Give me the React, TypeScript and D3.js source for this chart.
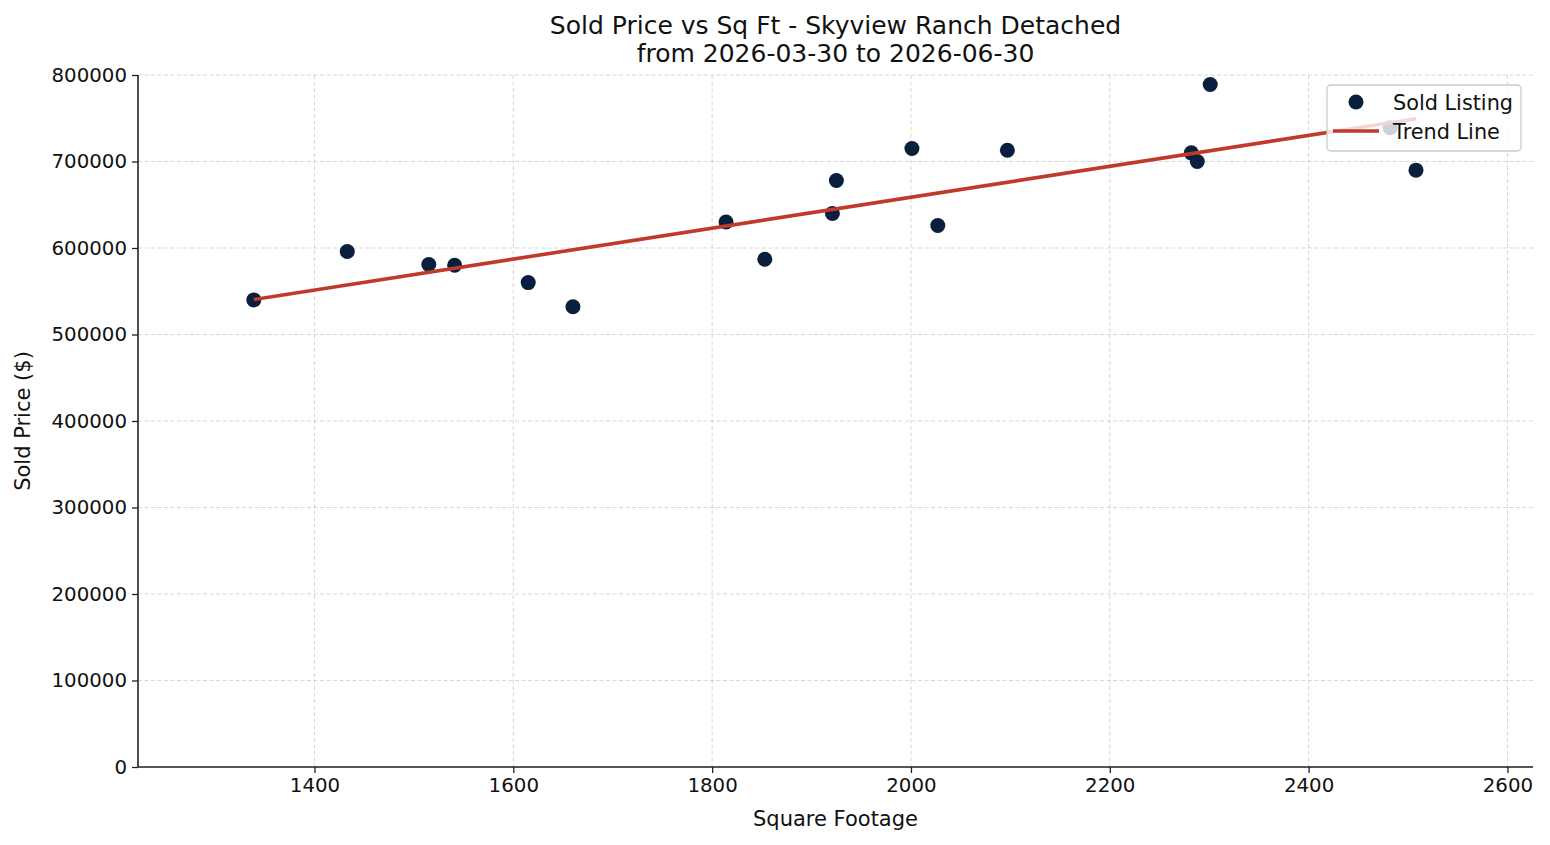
import React, { useRef, useEffect } from "react";
import * as d3 from "d3";

// sold listings
const sqft = [1339, 1433, 1515, 1541, 1615, 1660, 1814, 1853, 1921, 1925, 2001, 2027, 2097, 2282, 2288, 2301, 2482, 2508];
const soldPrice = [540000, 596000, 581000, 580000, 560000, 532000, 630000, 587000, 640000, 678000, 715000, 626000, 713000, 710000, 700000, 789000, 739000, 690000];

const xTicks = [1400, 1600, 1800, 2000, 2200, 2400, 2600];
const yTicks = [0, 100000, 200000, 300000, 400000, 500000, 600000, 700000, 800000];

const titleLines = ["Sold Price vs Sq Ft - Skyview Ranch Detached", "from 2026-03-30 to 2026-06-30"];

const W = 1550;
const H = 845;
const margin = { top: 75, right: 17, bottom: 78, left: 138 };
const font = "'DejaVu Sans', sans-serif";
const navy = "#0a1f3d";
const red = "#c0392b";

const App = () => {
  const svgRef = useRef(null);

  useEffect(() => {
    document.body.style.margin = "0";
    const svg = d3.select(svgRef.current);
    svg.selectAll("*").remove();

    const iw = W - margin.left - margin.right;
    const ih = H - margin.top - margin.bottom;

    const x = d3.scaleLinear().domain([1222.5, 2625.7]).range([0, iw]);
    const y = d3.scaleLinear().domain([0, 800000]).range([ih, 0]);

    const g = svg.append("g").attr("transform", `translate(${margin.left},${margin.top})`);

    // grid
    g.append("g")
      .selectAll("line")
      .data(xTicks)
      .enter()
      .append("line")
      .attr("x1", (d) => x(d))
      .attr("x2", (d) => x(d))
      .attr("y1", 0)
      .attr("y2", ih)
      .attr("stroke", "#b0b0b0")
      .attr("stroke-opacity", 0.5)
      .attr("stroke-dasharray", "4,2.5")
      .attr("stroke-width", 1);
    g.append("g")
      .selectAll("line")
      .data(yTicks)
      .enter()
      .append("line")
      .attr("x1", 0)
      .attr("x2", iw)
      .attr("y1", (d) => y(d))
      .attr("y2", (d) => y(d))
      .attr("stroke", "#b0b0b0")
      .attr("stroke-opacity", 0.5)
      .attr("stroke-dasharray", "4,2.5")
      .attr("stroke-width", 1);

    // axes
    const xAxis = g
      .append("g")
      .attr("transform", `translate(0,${ih})`)
      .call(d3.axisBottom(x).tickValues(xTicks).tickFormat(d3.format("d")).tickSize(6).tickPadding(5));
    const yAxis = g
      .append("g")
      .call(d3.axisLeft(y).tickValues(yTicks).tickFormat(d3.format("d")).tickSize(6).tickPadding(5));
    [xAxis, yAxis].forEach((a) => {
      a.select(".domain").attr("stroke", "#222").attr("stroke-width", 1.6);
      a.selectAll(".tick line").attr("stroke", "#222").attr("stroke-width", 1.3);
      a.selectAll("text").attr("font-family", font).attr("font-size", 19.8).attr("fill", "#111");
    });
    xAxis.select(".domain").attr("d", `M0,0H${iw}`);
    yAxis.select(".domain").attr("d", `M0,${ih}V0`);

    // points
    const pts = sqft.map((s, i) => [s, soldPrice[i]]);
    g.append("g")
      .selectAll("circle")
      .data(pts)
      .enter()
      .append("circle")
      .attr("cx", (d) => x(d[0]))
      .attr("cy", (d) => y(d[1]))
      .attr("r", 7.5)
      .attr("fill", navy);

    // least-squares trend line
    const mx = d3.mean(sqft);
    const my = d3.mean(soldPrice);
    const slope =
      d3.sum(sqft, (s, i) => (s - mx) * (soldPrice[i] - my)) / d3.sum(sqft, (s) => (s - mx) * (s - mx));
    const icpt = my - slope * mx;
    const [x0, x1] = d3.extent(sqft);
    const line = d3
      .line()
      .x((d) => x(d[0]))
      .y((d) => y(d[1]));
    g.append("path")
      .attr("d", line([[x0, icpt + slope * x0], [x1, icpt + slope * x1]]))
      .attr("fill", "none")
      .attr("stroke", red)
      .attr("stroke-width", 3.6);

    // legend
    const lg = svg.append("g").attr("transform", "translate(1327,85)");
    lg.append("rect")
      .attr("width", 194)
      .attr("height", 66)
      .attr("rx", 4)
      .attr("fill", "white")
      .attr("fill-opacity", 0.8)
      .attr("stroke", "#cccccc")
      .attr("stroke-width", 1.3);
    lg.append("circle").attr("cx", 29).attr("cy", 17).attr("r", 7.5).attr("fill", navy);
    lg.append("line").attr("x1", 6).attr("x2", 52).attr("y1", 46).attr("y2", 46).attr("stroke", red).attr("stroke-width", 3.6);
    ["Sold Listing", "Trend Line"].forEach((t, i) => {
      lg.append("text")
        .attr("x", 66)
        .attr("y", 24.5 + i * 29.5)
        .attr("font-family", font)
        .attr("font-size", 20.8)
        .attr("fill", "#111")
        .text(t);
    });

    // titles and labels
    titleLines.forEach((t, i) => {
      svg
        .append("text")
        .attr("x", margin.left + iw / 2)
        .attr("y", 34 + i * 28)
        .attr("text-anchor", "middle")
        .attr("font-family", font)
        .attr("font-size", 25)
        .attr("fill", "#111")
        .text(t);
    });
    svg
      .append("text")
      .attr("x", margin.left + iw / 2)
      .attr("y", 826)
      .attr("text-anchor", "middle")
      .attr("font-family", font)
      .attr("font-size", 21)
      .attr("fill", "#111")
      .text("Square Footage");
    svg
      .append("text")
      .attr("transform", `translate(30,${margin.top + ih / 2}) rotate(-90)`)
      .attr("text-anchor", "middle")
      .attr("font-family", font)
      .attr("font-size", 21)
      .attr("fill", "#111")
      .text("Sold Price ($)");
  });

  return (
    <div>
      <svg ref={svgRef} width={W} height={H} style={{ display: "block", background: "white" }}></svg>
    </div>
  );
};

export default App;
